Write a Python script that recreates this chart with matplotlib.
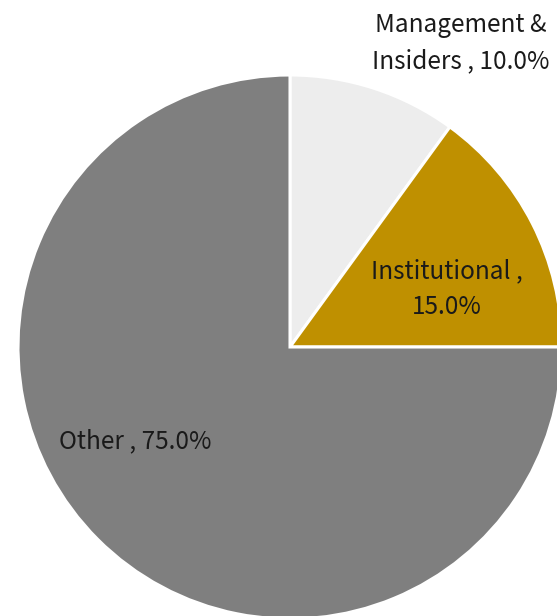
import matplotlib
matplotlib.use("Agg")
import matplotlib.pyplot as plt

categories = ["Management &\nInsiders", "Institutional", "Other"]
values = [10.0, 15.0, 75.0]
colors = ["#ededed", "#bf9000", "#7f7f7f"]
separators = [" , ", " ,\n", " , "]
label_pos = [(0.628, 1.118), (0.578, 0.213), (-0.570, -0.346)]

plt.rcParams['font.family'] = ['Noto Sans CJK SC', 'DejaVu Sans']

fig = plt.figure(figsize=(5.57, 6.16), dpi=100)
ax = fig.add_axes([0, 0, 1, 1])
ax.pie(values, colors=colors, startangle=90, counterclock=False,
       radius=1, center=(0, 0),
       wedgeprops=dict(edgecolor="white", linewidth=2.2))
ax.set_xlim(-290 / 272, 267 / 272)
ax.set_ylim(-269 / 272, 347 / 272)
ax.set_aspect('equal')
ax.axis('off')

for cat, val, sep, (x, y) in zip(categories, values, separators, label_pos):
    ax.text(x, y, f"{cat}{sep}{val:.1f}%", ha='center', va='center',
            fontsize=17.5, fontweight=300, color='#1a1a1a',
            linespacing=1.5)

fig.savefig("out.png", dpi=100)
